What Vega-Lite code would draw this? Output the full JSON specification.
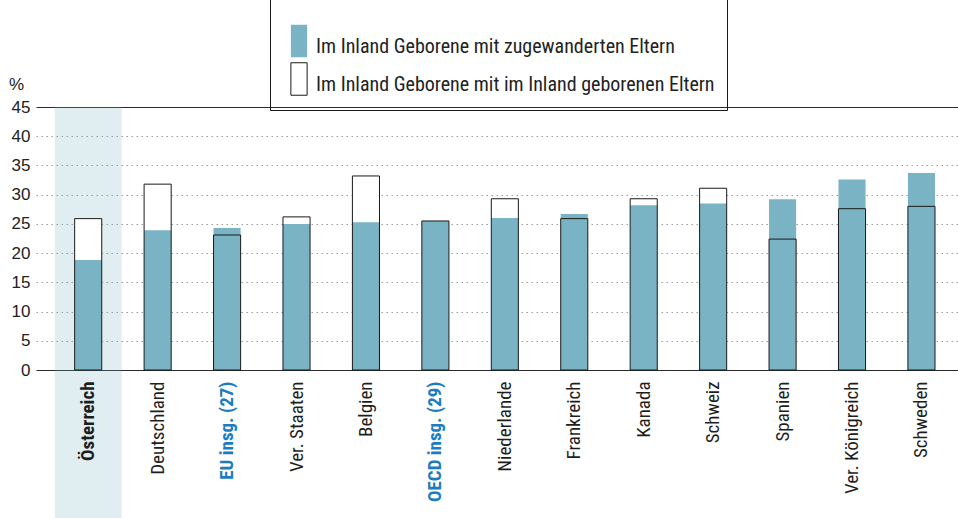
{
  "$schema": "https://vega.github.io/schema/vega-lite/v6.json",
  "width": 922,
  "height": 263,
  "autosize": {"type": "none"},
  "padding": {"left": 36, "top": 107, "right": 0, "bottom": 148},
  "background": "white",
  "config": {"view": {"stroke": null}},
  "data": {
    "values": [
      {"land": "Österreich", "imm": 18.8, "nat": 25.9},
      {"land": "Deutschland", "imm": 23.9, "nat": 31.8},
      {"land": "EU insg. (27)", "imm": 24.3, "nat": 23.1},
      {"land": "Ver. Staaten", "imm": 25.0, "nat": 26.2},
      {"land": "Belgien", "imm": 25.3, "nat": 33.2},
      {"land": "OECD insg. (29)", "imm": 25.5, "nat": 25.5},
      {"land": "Niederlande", "imm": 26.0, "nat": 29.3},
      {"land": "Frankreich", "imm": 26.7, "nat": 25.9},
      {"land": "Kanada", "imm": 28.2, "nat": 29.3},
      {"land": "Schweiz", "imm": 28.5, "nat": 31.1},
      {"land": "Spanien", "imm": 29.2, "nat": 22.4},
      {"land": "Ver. Königreich", "imm": 32.6, "nat": 27.6},
      {"land": "Schweden", "imm": 33.7, "nat": 28.0}
    ]
  },
  "encoding": {
    "x": {
      "field": "land",
      "type": "nominal",
      "sort": null,
      "title": null,
      "scale": {"paddingInner": 0.61, "paddingOuter": 0.444, "align": 0.627},
      "axis": {
        "labelAngle": -90,
        "labelFont": "Roboto Condensed, Liberation Sans Narrow, Roboto",
        "labelFontSize": 19,
        "labelPadding": 11,
        "labelLimit": 300,
        "domain": false,
        "ticks": false,
        "zindex": 1,
        "labelColor": {"condition": {"test": "datum.value === 'EU insg. (27)' || datum.value === 'OECD insg. (29)'", "value": "#1b7cc2"}, "value": "#1e1e1e"},
        "labelFontWeight": {"condition": {"test": "datum.value === 'EU insg. (27)' || datum.value === 'OECD insg. (29)' || datum.value === 'Österreich'", "value": "bold"}, "value": "normal"}
      }
    },
    "y": {
      "type": "quantitative",
      "title": "%",
      "scale": {"domain": [0, 45], "nice": false, "zero": true},
      "axis": {
        "values": [0, 5, 10, 15, 20, 25, 30, 35, 40, 45],
        "labelOverlap": false,
        "domain": false,
        "ticks": false,
        "labelFont": "Liberation Sans",
        "labelFontSize": 17,
        "labelColor": "#222222",
        "labelPadding": 6,
        "grid": true,
        "gridWidth": 1,
        "gridColor": {"condition": {"test": "datum.value === 0 || datum.value === 45", "value": "#2a2a2a"}, "value": "#9a9a9a"},
        "gridDash": {"condition": {"test": "datum.value === 0 || datum.value === 45", "value": []}, "value": [1.5, 3.5]},
        "titleAngle": 0,
        "titleX": -20,
        "titleY": -23,
        "titleAlign": "center",
        "titleBaseline": "middle",
        "titleFont": "Liberation Sans",
        "titleFontSize": 17,
        "titleFontWeight": "normal",
        "titleColor": "#222222"
      }
    }
  },
  "layer": [
    {
      "transform": [{"filter": "datum.land === 'Österreich'"}],
      "mark": {"type": "bar", "fill": "#7ab3c4", "opacity": 0.23, "width": {"band": 2.47}},
      "encoding": {
        "y": {"datum": 45, "type": "quantitative"},
        "y2": {"datum": -26}
      }
    },
    {
      "mark": {"type": "bar", "strokeWidth": 0},
      "encoding": {
        "y": {"field": "nat", "type": "quantitative"},
        "color": {
          "datum": "Im Inland Geborene mit im Inland geborenen Eltern",
          "type": "nominal",
          "scale": {
            "domain": ["Im Inland Geborene mit zugewanderten Eltern", "Im Inland Geborene mit im Inland geborenen Eltern"],
            "range": ["#7ab3c4", "#ffffff"]
          },
          "legend": {
            "orient": "none",
            "legendX": 234,
            "legendY": -200,
            "title": " ",
            "titleFontSize": 15,
            "titlePadding": 90,
            "padding": 12,
            "strokeColor": "#1a1a1a",
            "symbolType": "M-0.5,-1H0.5V1H-0.5Z",
            "symbolSize": 1056,
            "symbolStrokeWidth": 1,
            "symbolOpacity": 1,
            "labelFont": "Roboto Condensed, Liberation Sans Narrow, Roboto",
            "labelFontSize": 20,
            "labelColor": "#222222",
            "labelBaseline": "middle",
            "labelOffset": 0,
            "labelLimit": 500,
            "rowPadding": 0,
            "encode": {
              "labels": {"update": {"dy": {"value": 6}}},
              "symbols": {
                "update": {
                  "stroke": [
                    {"test": "datum.label === 'Im Inland Geborene mit im Inland geborenen Eltern'", "value": "#1a1a1a"},
                    {"value": "transparent"}
                  ]
                }
              }
            }
          }
        }
      }
    },
    {
      "mark": {"type": "bar", "strokeWidth": 0},
      "encoding": {
        "y": {"field": "imm", "type": "quantitative"},
        "color": {"datum": "Im Inland Geborene mit zugewanderten Eltern", "type": "nominal"}
      }
    },
    {
      "mark": {"type": "bar", "filled": false, "color": "#1a1a1a", "strokeWidth": 1},
      "encoding": {
        "y": {"field": "nat", "type": "quantitative"}
      }
    }
  ]
}
